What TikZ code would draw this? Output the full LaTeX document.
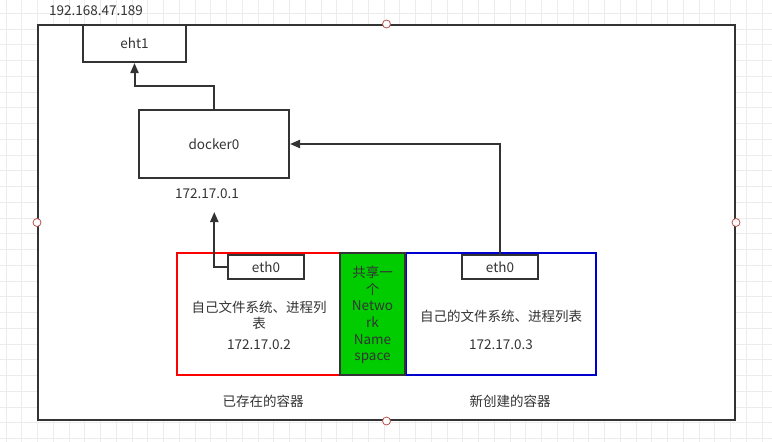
\documentclass[tikz,border=0pt]{standalone}
\usepackage{fontspec}
\setmainfont{Noto Sans CJK SC}
\usetikzlibrary{arrows.meta,positioning}
\definecolor{linegray}{HTML}{333333}
\definecolor{textgray}{HTML}{333333}
\definecolor{boxred}{HTML}{FF0000}
\definecolor{boxblue}{HTML}{0000CC}
\definecolor{nsgreen}{HTML}{00CC00}
\definecolor{gridgray}{HTML}{ECECEC}
\definecolor{handlered}{HTML}{B85450}

\begin{document}
\begin{tikzpicture}[x=1pt, y=-1pt,
    every node/.style={font=\fontsize{13.5}{16}\selectfont, text=textgray, inner sep=0pt},
    box/.style={draw=linegray, line width=2pt, rectangle, fill=white},
    link/.style={draw=linegray, line width=2pt, -{Triangle[length=10pt,width=8pt]}},
    gridline/.style={draw=gridgray, line width=0.8pt},
    selhandle/.style={draw=handlered, fill=white, circle, minimum size=8pt, line width=0.8pt}]
	\useasboundingbox (0,0) rectangle (772,442);
	% background grid
	\foreach \k in {0,...,48}
		\draw[gridline] ({5.9+15.75*\k},0) -- ({5.9+15.75*\k},442);
	\foreach \k in {1,...,28}
		\draw[gridline] (0,{-2.45+15.75*\k}) -- (772,{-2.45+15.75*\k});
	% host
	\node[box, minimum width=697pt, minimum height=395pt] (host) at (386.5,222.5) {};
	\node (hostip) at (96,11) {192.168.47.189};
	\node[box, minimum width=103pt, minimum height=37pt] (eht1) at (134.5,43.5) {eht1};
	\node[box, minimum width=150pt, minimum height=68pt] (docker0) at (214,144) {docker0};
	\node (dockerip) [below=9pt of docker0, xshift=-7pt] {172.17.0.1};
	% containers
	\node[draw=boxred, line width=2pt, minimum width=163pt, minimum height=122pt] (oldbox) at (258.5,314) {};
	\node[draw=boxblue, line width=2pt, minimum width=190pt, minimum height=122pt] (newbox) at (500.5,314) {};
	\node[draw=linegray, fill=nsgreen, line width=2pt, minimum width=65pt, minimum height=122pt] (netns) at (372.5,314) {};
	\node[align=center] (oldfs) at (259,315.5) {自己文件系统、进程列\\表};
	\node (oldip) at (259,344.3) {172.17.0.2};
	\node[align=center, font=\fontsize{13.5}{16.7}\selectfont] (nstext) at (372.5,315) {共享一\\个\\Netwo\\rk\\Name\\space};
	\node (newfs) at (501,316) {自己的文件系统、进程列表};
	\node (newip) at (501,344.3) {172.17.0.3};
	\node[box, minimum width=76pt, minimum height=24pt] (oldeth) at (266,267) {eth0};
	\node[box, minimum width=76pt, minimum height=24pt] (neweth) at (500,267) {eth0};
	\node (oldlabel) at (263,401) {已存在的容器};
	\node (newlabel) at (510,401) {新创建的容器};
	% links
	\coordinate (upTip) at (214.3,212);
	\draw[link] (docker0.north) -- ++(0,-23) -| (eht1.south);
	\draw[link] (neweth.north) |- (docker0.east);
	\draw[link] (oldeth.west) -| (upTip);
	% selection handles
	\foreach \h in {north,south,east,west}
		\node[selhandle] (h-\h) at (host.\h) {};
\end{tikzpicture}
\end{document}
